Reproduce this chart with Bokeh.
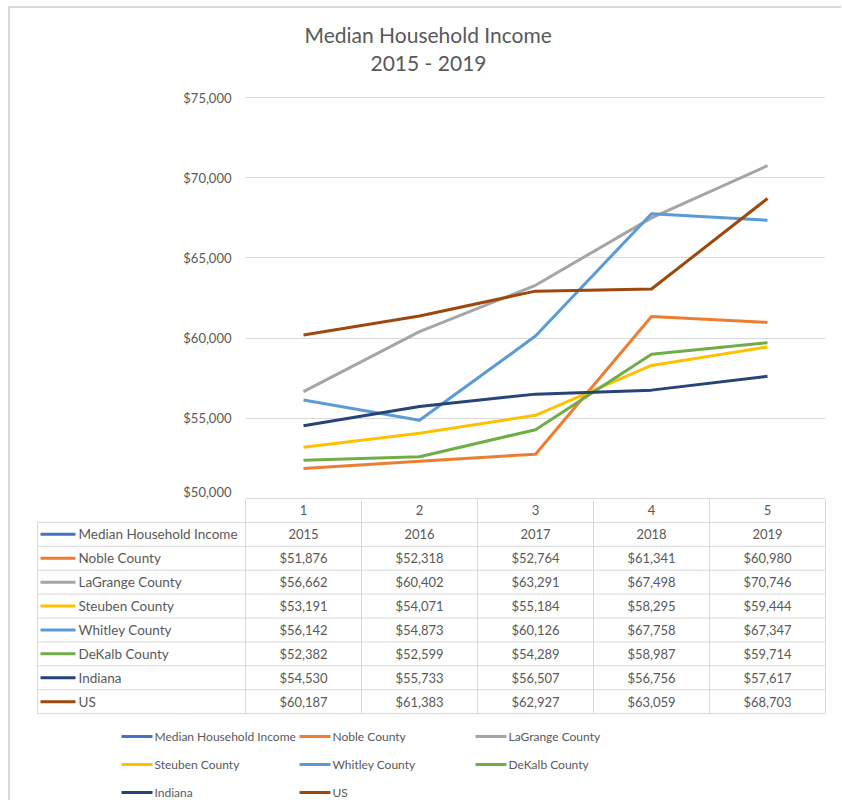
from bokeh.plotting import figure
from bokeh.layouts import column
from bokeh.models import Range1d, FixedTicker, NumeralTickFormatter, Title
from bokeh.core.properties import value
from bokeh.embed import file_html
from bokeh.resources import INLINE

# ---------------- data ----------------
categories = [1, 2, 3, 4, 5]
years = [2015, 2016, 2017, 2018, 2019]
series_names = ["Median Household Income", "Noble County", "LaGrange County",
                "Steuben County", "Whitley County", "DeKalb County", "Indiana", "US"]
median_household_income = [2015, 2016, 2017, 2018, 2019]
noble = [51876, 52318, 52764, 61341, 60980]
lagrange = [56662, 60402, 63291, 67498, 70746]
steuben = [53191, 54071, 55184, 58295, 59444]
whitley = [56142, 54873, 60126, 67758, 67347]
dekalb = [52382, 52599, 54289, 58987, 59714]
indiana = [54530, 55733, 56507, 56756, 57617]
us = [60187, 61383, 62927, 63059, 68703]
y_ticks = [50000, 55000, 60000, 65000, 70000, 75000]

series_values = [median_household_income, noble, lagrange, steuben, whitley, dekalb, indiana, us]
colors = ["#4472C4", "#ED7D31", "#A5A5A5", "#FFC000", "#5B9BD5", "#70AD47", "#264478", "#9E480E"]

FONT = "Lato"
TXT = "#595959"
GRID = "#d9d9d9"

# page origin of the plots (inside a 2px border placed at x=8, y=6)
OX, OY = 10, 8
RIGHT = 841

# ---------------- chart ----------------
px_per_val = 401 / 25000.0
ypad = 1 / px_per_val
pa = figure(width=RIGHT - OX, height=499 - OY, x_range=Range1d(0.5, 5.5),
            y_range=Range1d(50000 - ypad, 75000 + ypad),
            output_backend="svg", toolbar_location=None, x_axis_location=None,
            min_border_left=245 - OX, min_border_right=RIGHT - 825, min_border_top=96 - OY,
            min_border_bottom=0)
pa.frame_align = False
pa.outline_line_color = None
pa.background_fill_color = "white"
pa.border_fill_color = "white"

# spacer between plot area and the two title lines
pa.add_layout(Title(text=" ", text_font_size="1px", standoff=19), "above")
pa.add_layout(Title(text="2015 - 2019", align="left", offset=125, text_font=FONT,
                    text_font_size="21px", text_font_style="normal", text_color=TXT,
                    standoff=0), "above")
pa.add_layout(Title(text="Median Household Income", align="left", offset=59, text_font=FONT,
                    text_font_size="21px", text_font_style="normal", text_color=TXT,
                    standoff=2), "above")

pa.yaxis.ticker = FixedTicker(ticks=y_ticks)
pa.yaxis.formatter = NumeralTickFormatter(format="$0,0")
pa.yaxis.axis_line_color = None
pa.yaxis.major_tick_line_color = None
pa.yaxis.minor_tick_line_color = None
pa.yaxis.major_label_standoff = 8
pa.yaxis.major_label_text_font = FONT
pa.yaxis.major_label_text_font_size = "13px"
pa.yaxis.major_label_text_color = TXT
pa.ygrid.ticker = FixedTicker(ticks=y_ticks)
pa.ygrid.grid_line_color = GRID
pa.xgrid.grid_line_color = None

for name, vals, col in zip(series_names, series_values, colors):
    pa.line(categories, vals, line_color=col, line_width=3, line_join="round")

# ---------------- data table + legend ----------------
LEFT_PX = 37      # left edge of label column (page px)
CAT_PX = 116      # width of one category column
x0 = 0.5 - (245 - LEFT_PX) / CAT_PX
pad = 2 / CAT_PX


def px_x(px):
    return x0 + (px - LEFT_PX) / CAT_PX


B_TOP, B_BOTTOM = 499, 800
pb = figure(width=RIGHT - OX, height=B_BOTTOM - B_TOP, x_range=Range1d(x0 - pad, 5.5 + pad),
            y_range=Range1d(B_BOTTOM, B_TOP),
            output_backend="svg", toolbar_location=None, x_axis_location=None, y_axis_location=None,
            min_border_left=LEFT_PX - 2 - OX, min_border_right=RIGHT - 827, min_border_top=0,
            min_border_bottom=0)
pb.frame_align = False
pb.outline_line_color = None
pb.xgrid.grid_line_color = None
pb.ygrid.grid_line_color = None

TOP = 498
RH = 23.9
n_rows = len(series_names)

# grid lines
hx0, hx1, hy = [], [], []
for k in range(1, n_rows + 2):
    hx0.append(x0); hx1.append(5.5); hy.append(TOP + k * RH)
pb.segment(x0=hx0, x1=hx1, y0=hy, y1=hy, line_color=GRID, line_width=1)

vx, vy0, vy1 = [x0], [TOP + RH], [TOP + (n_rows + 1) * RH]
for c in categories:
    vx.append(c - 0.5); vy0.append(TOP); vy1.append(TOP + (n_rows + 1) * RH)
vx.append(5.5); vy0.append(TOP); vy1.append(TOP + (n_rows + 1) * RH)
pb.segment(x0=vx, x1=vx, y0=vy0, y1=vy1, line_color=GRID, line_width=1)

# header row (category numbers)
pb.text(x=categories, y=[TOP + RH / 2] * len(categories), text=[str(c) for c in categories],
        text_font=value(FONT), text_font_size="13px", text_color=TXT,
        text_align="center", text_baseline="middle")

# rows
row_y = [TOP + (i + 1.5) * RH for i in range(n_rows)]
pb.segment(x0=[px_x(40)] * n_rows, x1=[px_x(75)] * n_rows, y0=row_y, y1=row_y,
           line_color=colors, line_width=3)
pb.text(x=[px_x(78)] * n_rows, y=row_y, text=series_names,
        text_font=value(FONT), text_font_size="13.5px", text_color=TXT,
        text_align="left", text_baseline="middle")

cx, cy, ct = [], [], []
for i, vals in enumerate(series_values):
    for c, v in zip(categories, vals):
        cx.append(c)
        cy.append(row_y[i])
        ct.append(str(v) if i == 0 else "${:,}".format(v))
pb.text(x=cx, y=cy, text=ct, text_font=value(FONT), text_font_size="13px", text_color=TXT,
        text_align="center", text_baseline="middle")

# legend
leg_cols_px = [121, 299, 475]
leg_rows_px = [736, 764, 792]
lx0, lx1, ly, lt, lc = [], [], [], [], []
for i, (name, col) in enumerate(zip(series_names, colors)):
    r, c = divmod(i, 3)
    lx0.append(px_x(leg_cols_px[c]))
    lx1.append(px_x(leg_cols_px[c] + 31))
    ly.append(leg_rows_px[r])
    lt.append(name)
    lc.append(col)
pb.segment(x0=lx0, x1=lx1, y0=ly, y1=ly, line_color=lc, line_width=3)
pb.text(x=[v + 2 / CAT_PX for v in lx1], y=ly, text=lt, text_font=value(FONT), text_font_size="12px",
        text_color=TXT, text_align="left", text_baseline="middle")

layout = column(pa, pb, spacing=0,
                styles={"margin-left": "8px", "margin-top": "6px",
                        "border-top": "2px solid #d9d9d9", "border-left": "2px solid #d9d9d9"})

open("out.html", "w").write(file_html(layout, INLINE))
